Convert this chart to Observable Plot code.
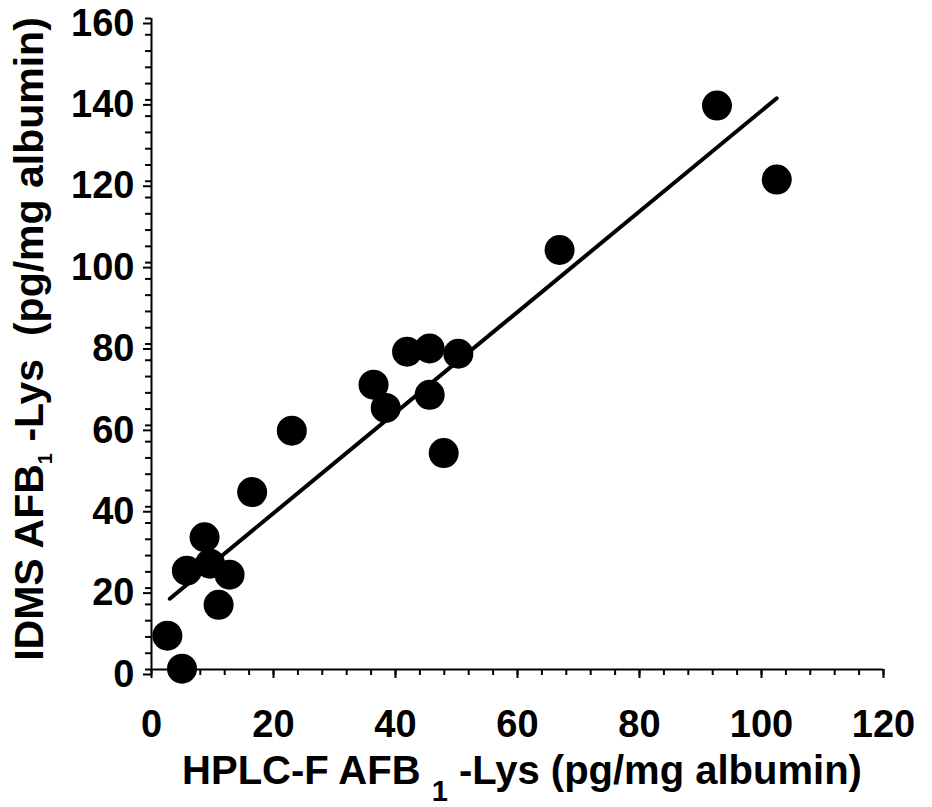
<!DOCTYPE html>
<html>
<head>
<meta charset="utf-8">
<script src="https://cdn.jsdelivr.net/npm/d3@7"></script>
<script src="https://cdn.jsdelivr.net/npm/@observablehq/plot@0.6"></script>
<style>
  html, body { margin: 0; padding: 0; background: #fff; }
  #chart svg { display: block; }
</style>
</head>
<body>
<div id="chart"></div>
<script>
// HPLC-F AFB1-Lys (pg/mg albumin)
const hplcValues = [2.6, 5.0, 5.8, 8.7, 9.6, 11.0, 12.8, 16.5, 23.0, 36.4, 38.4, 41.9, 45.6, 45.6, 47.9, 50.3, 66.9, 92.7, 102.5];
// IDMS AFB1-Lys (pg/mg albumin)
const idmsValues = [8.3, 0.2, 24.3, 32.5, 26.0, 15.9, 23.3, 43.6, 58.7, 70.0, 64.3, 78.1, 78.9, 67.5, 53.2, 77.6, 103.1, 138.6, 120.4];
// regression line endpoints
const fitX = [3.0, 102.5];
const fitY = [17.4, 140.4];
// tick labels
const xTicks = [0, 20, 40, 60, 80, 100, 120];
const yTicks = [0, 20, 40, 60, 80, 100, 120, 140, 160];
const xMinorTicks = d3.range(0, 121, 4);
const yMinorTicks = d3.range(0, 161, 4);

const points = hplcValues.map((x, i) => ({x, y: idmsValues[i]}));
const fit = fitX.map((x, i) => ({x, y: fitY[i]}));

const font = "'Liberation Sans', Arial, Helvetica, sans-serif";

const chart = Plot.plot({
  width: 932,
  height: 807,
  marginLeft: 151,
  marginRight: 49,
  marginTop: 18,
  marginBottom: 138,
  x: {domain: [0, 120]},
  y: {domain: [0, 160]},
  style: {fontFamily: font, fontWeight: "bold", fontSize: "38px", color: "black", background: "white", overflow: "visible"},
  marks: [
    Plot.axisX({ticks: xMinorTicks, tickSize: 6, text: null, strokeWidth: 2, label: null}),
    Plot.axisX({ticks: xTicks, tickSize: 9, tickPadding: 32, strokeWidth: 2, label: null, tickFormat: d => String(d)}),
    Plot.axisY({ticks: yMinorTicks, tickSize: 6, text: null, strokeWidth: 2, label: null}),
    Plot.axisY({ticks: yTicks, tickSize: 8, tickPadding: 9, strokeWidth: 2, label: null, dy: 5, tickFormat: d => String(d)}),
    Plot.ruleY([0], {strokeWidth: 2}),
    Plot.ruleX([0], {strokeWidth: 2}),
    Plot.line(fit, {x: "x", y: "y", stroke: "black", strokeWidth: 4}),
    Plot.dot(points, {x: "x", y: "y", r: 15, fill: "black", stroke: "none"})
  ]
});

const svg = d3.select(chart);
svg.style("white-space", "pre");

// X axis title
const xt = svg.append("text")
  .attr("x", 522).attr("y", 784)
  .attr("text-anchor", "middle")
  .attr("font-family", font).attr("font-weight", "bold").attr("font-size", 40)
  .attr("fill", "black");
xt.append("tspan").text("HPLC-F AFB ");
xt.append("tspan").attr("font-size", 29).attr("dy", 17).text("1");
xt.append("tspan").attr("dy", -17).text(" -Lys (pg/mg albumin)");

// Y axis title
const yt = svg.append("text")
  .attr("transform", "translate(43,339) rotate(-90)")
  .attr("text-anchor", "middle")
  .attr("font-family", font).attr("font-weight", "bold").attr("font-size", 41)
  .attr("fill", "black");
yt.append("tspan").text("IDMS AFB");
yt.append("tspan").attr("font-size", 20).attr("dy", 9).text("1");
yt.append("tspan").attr("dy", -9).text(" -Lys  (pg/mg albumin)");

document.getElementById("chart").appendChild(chart);
</script>
</body>
</html>
